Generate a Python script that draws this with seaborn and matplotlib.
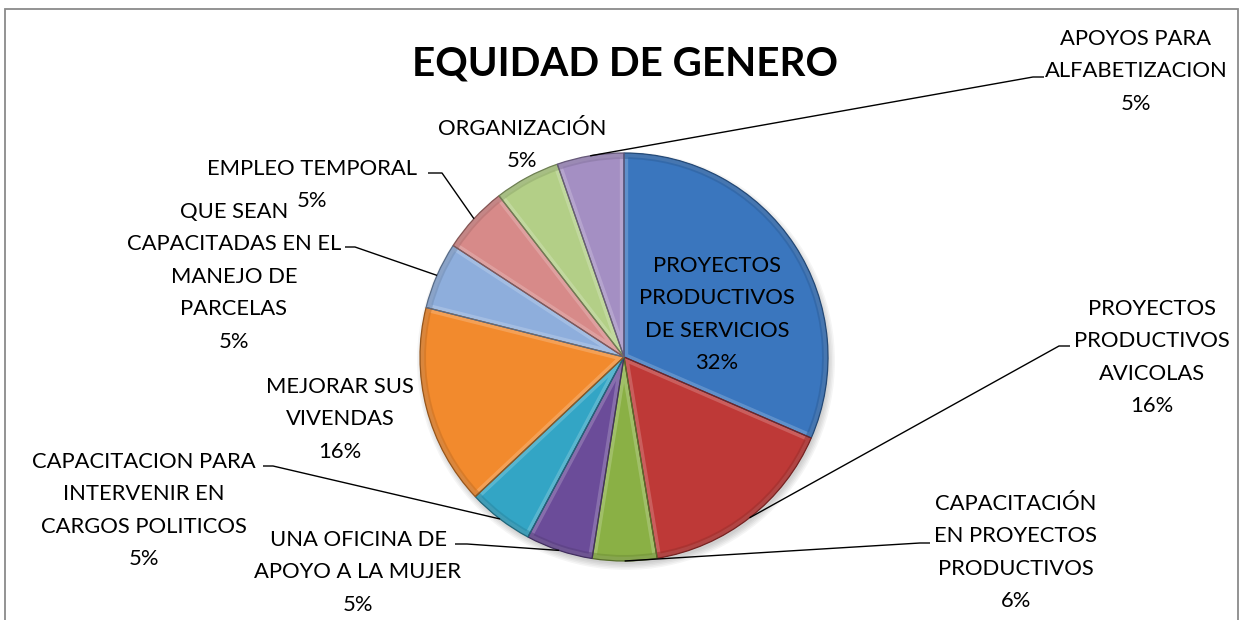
import numpy as np
import matplotlib
matplotlib.use("Agg")
import matplotlib.pyplot as plt
import matplotlib.colors as mcolors
from matplotlib.patches import Rectangle, Circle, Wedge
import seaborn as sns

# ---------------- data ----------------
title = "EQUIDAD DE GENERO"
categories = [
    "PROYECTOS\nPRODUCTIVOS\nDE SERVICIOS",
    "PROYECTOS\nPRODUCTIVOS\nAVICOLAS",
    "CAPACITACIÓN\nEN PROYECTOS\nPRODUCTIVOS",
    "UNA OFICINA DE\nAPOYO A LA MUJER",
    "CAPACITACION PARA\nINTERVENIR EN\nCARGOS POLITICOS",
    "MEJORAR SUS\nVIVENDAS",
    "QUE SEAN\nCAPACITADAS EN EL\nMANEJO DE\nPARCELAS",
    "EMPLEO TEMPORAL",
    "ORGANIZACIÓN",
    "APOYOS PARA\nALFABETIZACION",
]
shares = [31.5, 15.9, 5.1, 5.3, 5.2, 15.9, 5.3, 5.3, 5.2, 5.3]
pct_labels = ["32%", "16%", "6%", "5%", "5%", "16%", "5%", "5%", "5%", "5%"]
colors = ["#3A76BE", "#BE3937", "#8AB045", "#6B4C99", "#33A5C5",
          "#F28A2D", "#8EAEDC", "#D78A89", "#B3CF87", "#A48FC3"]

# ---------------- layout (image pixel coords, y from top) ----------------
W, H = 1244, 620
CX, CY, R = 624, 357, 204
PITCH = 32.5
# label: (centre x, first-line centre y, leader elbow, leader end)
label_layout = [
    (717, 264, None, None),
    (1152, 307, (1059, 346), (1070, 346)),
    (1016, 502, (920, 543), (930, 543)),
    (358, 538, (467, 544), (455, 544)),
    (144, 460, (273, 466), (263, 466)),
    (340, 385, None, None),
    (234, 210, (355, 247), (345, 247)),
    (312, 167, (442, 173), (428, 173)),
    (522, 127, None, None),
    (1136, 37, (1033, 77), (1044, 77)),
]
# reference widths (px) of a few label lines, used to fit the font size
fit_widths = {"CAPACITACION PARA": 228, "APOYO A LA MUJER": 210,
              "ALFABETIZACION": 172, "MEJORAR SUS": 153}

sns.set_theme(style="white")
plt.rcParams['font.family'] = ['Lato', 'DejaVu Sans']

fig = plt.figure(figsize=(W / 100, H / 100), dpi=100)
fig.patch.set_facecolor("white")
ax = fig.add_axes([0, 0, 1, 1])


def Y(py):
    return H - py


# soft shadow under the pie
for k in range(5):
    ax.add_patch(Circle((CX + 2, Y(CY) - 4), R + 5 - 1.5 * k, color="black",
                        alpha=0.04, lw=0, zorder=0))

wedges, _ = ax.pie(shares, colors=colors, startangle=90, counterclock=False,
                   center=(CX, Y(CY)), radius=R,
                   wedgeprops=dict(linewidth=0))
for w, c in zip(wedges, colors):
    rgb = np.array(mcolors.to_rgb(c))
    w.set_zorder(2)
    # bevel: light inner band along the slice edges
    hl = Wedge(w.center, w.r, w.theta1, w.theta2, fill=False,
               edgecolor=tuple(rgb + (1 - rgb) * 0.35), linewidth=6,
               alpha=0.55, zorder=2.2)
    ax.add_patch(hl)
    hl.set_clip_path(w)
    # darker outer rim band
    rim = Wedge(w.center, w.r, w.theta1, w.theta2, width=6, fill=True,
                facecolor=tuple(rgb * 0.8), edgecolor="none", alpha=0.5,
                zorder=2.3)
    ax.add_patch(rim)
    # thin dark outline
    ax.add_patch(Wedge(w.center, w.r, w.theta1, w.theta2, fill=False,
                       edgecolor=tuple(rgb * 0.62), linewidth=0.9,
                       zorder=2.5))

ax.set_xlim(0, W)
ax.set_ylim(0, H)
ax.set_aspect('equal', adjustable='box')
ax.axis('off')

# frame
ax.add_patch(Rectangle((5, Y(626)), 1233, 626 - 9, fill=False,
                       edgecolor="#8A8A8A", linewidth=1.3, zorder=1))

# font sizes fitted to the reference widths
renderer = fig.canvas.get_renderer()
ratios = []
for s, target in fit_widths.items():
    probe = ax.text(0, 0, s, fontsize=20)
    ratios.append(target / probe.get_window_extent(renderer).width)
    probe.remove()
lab_size = 20 * float(np.mean(ratios))
probe = ax.text(0, 0, title, fontsize=40, fontweight="bold")
wpx = probe.get_window_extent(renderer).width
probe.remove()
title_size = 40 * 427 / wpx

ax.text(625, Y(61) - 0.36 * title_size * 100 / 72, title, fontsize=title_size,
        fontweight="bold", ha="center", va="baseline", color="black", zorder=5)

cap = 0.7165 * lab_size * 100 / 72
for i, (cat, pct) in enumerate(zip(categories, pct_labels)):
    x, y0, elbow, end = label_layout[i]
    lines = cat.split("\n") + [pct]
    for j, s in enumerate(lines):
        yl = y0 + j * PITCH
        ax.text(x, Y(yl) - cap / 2, s, fontsize=lab_size, ha="center",
                va="baseline", color="black", zorder=5)
    if elbow is not None:
        w = wedges[i]
        mid = np.deg2rad((w.theta1 + w.theta2) / 2)
        px = CX + R * np.cos(mid)
        py = Y(CY) + R * np.sin(mid)
        ax.plot([px, elbow[0], end[0]], [py, Y(elbow[1]), Y(end[1])],
                color="black", linewidth=1.0, zorder=4,
                solid_capstyle="butt")

fig.savefig("out.png", dpi=100, facecolor="white")
